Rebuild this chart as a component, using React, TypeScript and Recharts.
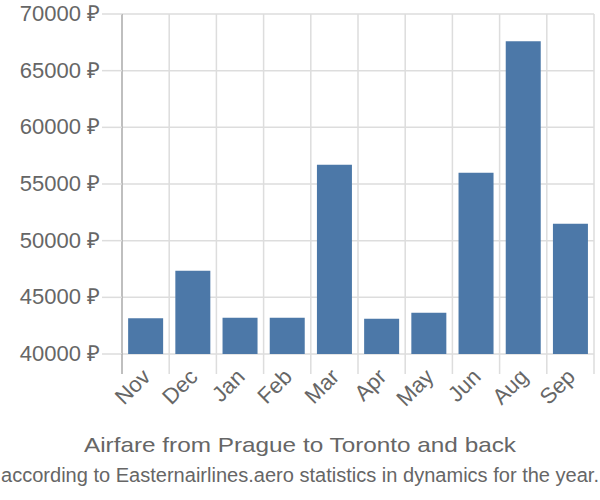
import React from 'react';
import { BarChart, Bar, XAxis, YAxis, CartesianGrid } from 'recharts';

const months = ['Nov', 'Dec', 'Jan', 'Feb', 'Mar', 'Apr', 'May', 'Jun', 'Aug', 'Sep'];
const prices = [43150, 47350, 43200, 43200, 56700, 43100, 43650, 56000, 67600, 51500];
const priceTicks = [40000, 45000, 50000, 55000, 60000, 65000, 70000];

const data = months.map((m, i) => ({ month: m, price: prices[i] }));

const W = 600;
const H = 500;
const LEFT = 122;
const RIGHT = 6;
const band = (W - LEFT - RIGHT) / months.length;
const font = '"Liberation Sans", Arial, sans-serif';

const MonthTick = (props: any) => {
    const { x, y, payload, index } = props;
    const last = index === months.length - 1;
    return (
        <g>
            <line x1={x - band / 2} y1={y} x2={x - band / 2} y2={y + 20} stroke={index === 0 ? '#aaa' : '#ddd'} strokeWidth={1.5} />
            {last && <line x1={x + band / 2} y1={y} x2={x + band / 2} y2={y + 20} stroke="#ddd" strokeWidth={1.5} />}
            <text
                transform={`translate(${x + 2}, ${y + 20}) rotate(-45)`}
                textAnchor="end"
                dominantBaseline="middle"
                fill="#666"
                fontSize={22}
                fontFamily={font}
            >
                {payload.value}
            </text>
        </g>
    );
};

const PriceTick = (props: any) => {
    const { x, y, payload } = props;
    return (
        <text x={x} y={y} dy={7} textAnchor="end" fill="#666" fontSize={22} fontFamily={font}>
            {`${payload.value} ₽`}
        </text>
    );
};

export default function App() {
    return (
        <div style={{ position: 'absolute', left: 0, top: 0, width: W, height: H, background: '#fff' }}>
            <BarChart width={W} height={H} data={data} margin={{ top: 14, right: RIGHT, left: 0, bottom: 0 }} barCategoryGap="13%">
                <CartesianGrid
                    stroke="#ddd"
                    strokeWidth={1.5}
                    verticalCoordinatesGenerator={({ offset }: any) =>
                        months.map((_, i) => offset.left + (i + 1) * (offset.width / months.length))
                    }
                />
                <XAxis
                    dataKey="month"
                    height={146}
                    tickLine={false}
                    axisLine={false}
                    tickSize={0}
                    tickMargin={0}
                    interval={0}
                    tick={<MonthTick />}
                />
                <YAxis
                    width={LEFT}
                    domain={[40000, 70000]}
                    ticks={priceTicks}
                    allowDataOverflow
                    tickSize={20}
                    tickMargin={2}
                    tickLine={{ stroke: '#ddd', strokeWidth: 1.5 }}
                    axisLine={{ stroke: '#aaa', strokeWidth: 1.5 }}
                    tick={<PriceTick />}
                />
                <Bar dataKey="price" fill="#4C78A8" isAnimationActive={false} />
            </BarChart>
            <svg width={W} height={H} style={{ position: 'absolute', left: 0, top: 0, pointerEvents: 'none' }}>
                <text x={W / 2} y={452} textAnchor="middle" fill="#666" fontSize={21} fontFamily={font} textLength={432} lengthAdjust="spacingAndGlyphs">
                    Airfare from Prague to Toronto and back
                </text>
                <text x={W / 2} y={482} textAnchor="middle" fill="#666" fontSize={20} fontFamily={font} textLength={598} lengthAdjust="spacingAndGlyphs">
                    according to Easternairlines.aero statistics in dynamics for the year.
                </text>
            </svg>
        </div>
    );
}
